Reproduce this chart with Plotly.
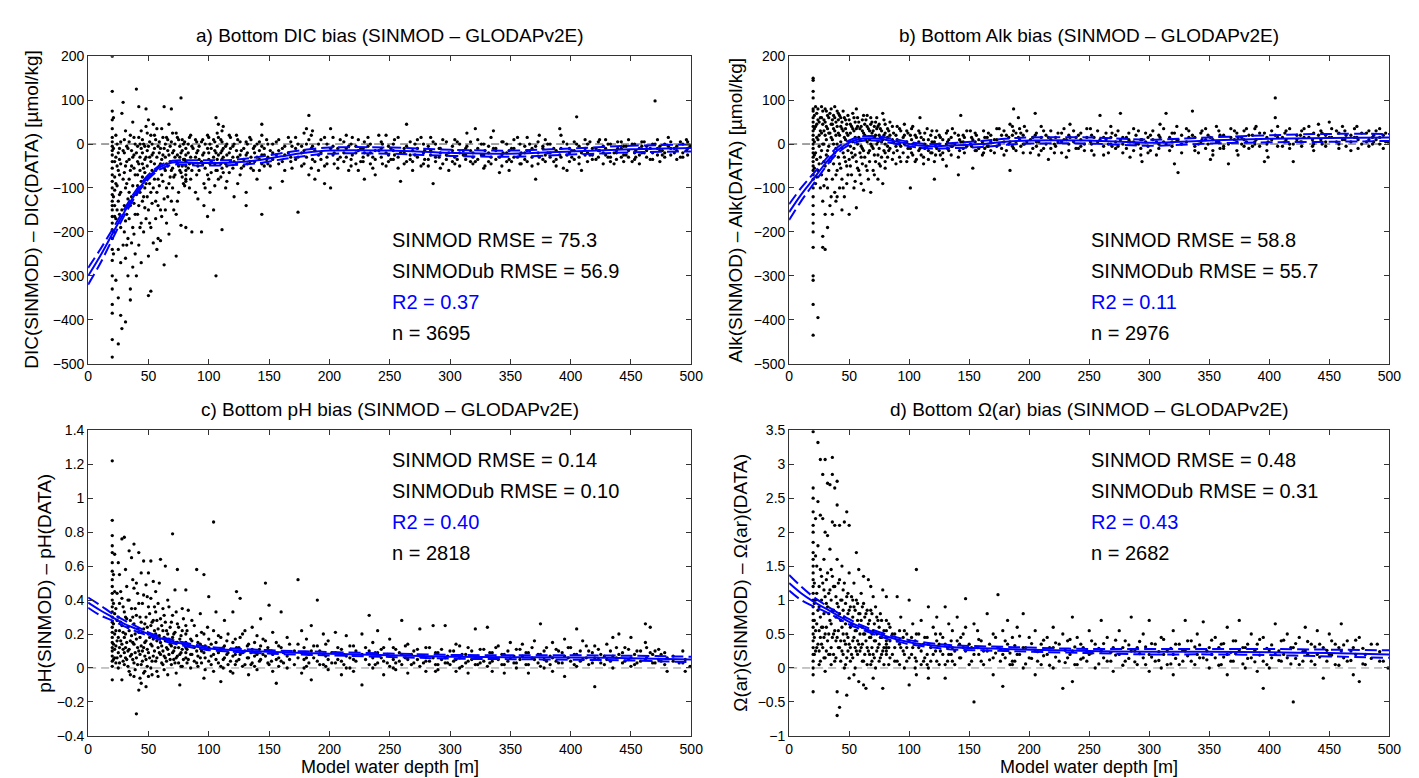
import plotly.graph_objects as go

# ---- a) DIC bias: (model depth, biases read at that depth)
dic_pts = [
    (20, [200, 120, 75, 55, 35, 15, 5, -5, -15, -25, -40, -55, -70, -85, -100, -115, -130, -140, -150,
          -165, -180, -195, -215, -240, -265, -300, -330, -365, -385, -445, -485]),
    (21, [60, -10, -120, -200, -250]), (23, [20, -30, -90, -170, -310]),
    (25, [-20, -60, -130, -240, -350, -455]), (27, [5, -45, -110, -190, -270, -390]),
    (28, [70, -150, -420]), (29, [95, -15, -80, -230]), (31, [30, -50, -100, -175, -260, -405]),
    (33, [-10, -125, -215, -300]), (35, [20, -60, -140, -330, -355]), (37, [50, -30, -95, -190, -280]),
    (39, [0, -70, -160, -250]), (40, [125, -20, -115, -300]), (42, [85, 15, -45, -140, -230]),
    (44, [30, -10, -85, -180, -270]), (46, [0, -55, -120, -200]), (48, [80, 40, -30, -90, -170]),
    (50, [55, -5, -75, -150, -255, -345]), (52, [20, -40, -110, -190, -335]), (54, [45, -20, -100, -225]),
    (56, [10, -60, -130, -170]), (58, [-5, -80, -140, -215]), (61, [35, -35, -70, -165]),
    (63, [85, -10, -55, -125, -275]), (65, [15, -45, -100, -180]), (67, [45, -25, -90, -205]),
    (69, [80, 5, -60, -130]), (71, [-15, -75, -150]), (73, [25, -40, -160, -255]), (75, [10, -50, -110]),
    (77, [105, -20, -65, -185]), (79, [0, -35, -90]), (81, [-10, -25, -40, -50, -60, -70, -80, -85, -190]),
    (84, [15, -45, -100]), (86, [-5, -60, -200]), (89, [10, -30, -110]), (91, [-15, -50, -125]),
    (94, [5, -40, -200]), (96, [-20, -90, -140]), (99, [20, -10, -70, -165]), (101, [0, -45, -110]),
    (104, [10, -30, -150]), (106, [60, -20, -60, -300]), (108, [45, 15, -25, -80]),
    (111, [30, 5, -15, -35, -55, -195]), (114, [-5, -45, -100]), (117, [20, -20, -65]),
    (121, [0, -40, -120]), (124, [10, -30, -90]), (127, [-15, -55]), (131, [5, -25, -110, -140]),
    (134, [15, -40]), (137, [-10, -60]), (140, [0, -30, -80]), (144, [45, 20, -5, -25, -45, -160]),
    (148, [10, -35]), (151, [-15, -50, -100]), (156, [5, -25]), (161, [-10, -40, -85]), (166, [15, -20]),
    (169, [-5, -55]), (174, [0, -30, -155]), (179, [25, -15, -45]), (183, [65, 10, -70]),
    (186, [30, -5, -35]), (191, [0, -25, -60]), (196, [15, -50, -90]), (201, [35, -10, -100]),
    (204, [-20, -45]), (209, [10, -30]), (216, [-5, -60]), (219, [15, -25]), (226, [-10, -40]),
    (229, [5, -20, -80]), (236, [-30, -55]), (241, [20, -15]), (244, [0, -45]), (251, [-10, -35]),
    (254, [10, -25]), (259, [-20, -85]), (264, [45, -5, -40]), (271, [0, -25]), (276, [15, -50]),
    (279, [-15, -35]), (286, [5, -90]), (291, [-10, -30]), (294, [10, -45]), (299, [-20, -60]),
    (306, [5, -35]), (311, [-25, -15]), (314, [25, -5]), (321, [35, -40]), (326, [0, -25]),
    (329, [-15, -50]), (336, [30, -10]), (341, [-30, -65]), (344, [5, -20]), (351, [-10, -40]),
    (356, [15, -30]), (359, [-20, -45]), (366, [0, -15]), (371, [-5, -80]), (374, [20, -30]),
    (381, [0, -20]), (386, [-10, -40]), (391, [35, -25]), (394, [5, -55]), (401, [-15, -30]),
    (405, [62, 0]), (409, [-20, -60]), (416, [5, -25]), (421, [-10, -35]), (424, [10, -15]),
    (431, [0, -30]), (436, [-20, -45]), (439, [5, -10]), (446, [-25, -5]), (451, [0, -40]),
    (454, [-15, -30]), (461, [5, -20]), (466, [-10, -35]), (470, [98, 0]), (476, [-15, -25]),
    (481, [15, -5]), (486, [-20, -10]), (491, [5, -30]), (496, [10, -15]), (499, [-5]),
]
dic_pts_more = [
    (22, [-40, -75, -105, -140, -165]), (24, [0, -50, -95, -150]), (26, [-10, -35, -70, -115, -160]),
    (30, [10, -20, -65, -140, -200]), (32, [-5, -40, -90, -160, -230]), (34, [5, -35, -80, -110, -170]),
    (36, [-15, -50, -120, -225]), (38, [15, -25, -55, -135, -205]), (41, [-5, -40, -70, -95, -160]),
    (43, [0, -30, -60, -110, -190]), (45, [10, -20, -45, -75, -130]), (47, [-5, -35, -65, -100, -145]),
    (49, [25, -15, -50, -120]), (51, [5, -30, -90, -180]), (53, [0, -25, -60, -135]),
    (55, [20, -10, -45, -80]), (57, [35, -30, -110, -240]), (59, [5, -20, -50, -95]),
    (60, [-10, -45, -150, -220]), (62, [15, -25, -85]), (64, [0, -30, -60, -150]),
    (66, [10, -15, -50, -120]), (68, [-5, -40, -75]), (70, [25, -20, -55, -100]), (72, [0, -30, -70]),
    (74, [15, -25, -45, -130]), (76, [-5, -30, -60]), (78, [10, -15, -50, -75]), (80, [5, -35, -95]),
    (83, [0, -20, -55]), (85, [20, -30, -80]), (87, [-10, -45]), (90, [5, -20, -70]),
    (92, [-5, -35, -60]), (95, [10, -25, -45]), (97, [0, -55, -100]), (100, [15, -20, -35, -80]),
    (102, [-10, -40, -65]), (105, [5, -15, -45, -95]), (107, [25, -5, -35, -60]),
    (110, [10, -20, -45, -75]), (112, [40, -10, -30, -65]), (115, [0, -25, -50, -85]),
    (118, [15, -10, -40]), (120, [-5, -30, -55]), (123, [20, -15, -45]), (126, [5, -25, -70]),
    (129, [-10, -35, -50]), (132, [0, -20, -45]), (135, [10, -30, -55]), (138, [-5, -20, -40]),
    (142, [5, -15, -35, -60]), (146, [-10, -25, -50]), (149, [0, -30, -45]),
    (153, [0, -20, -35]), (158, [10, -15, -45]), (163, [-5, -25, -60]), (168, [5, -30, -40]),
    (172, [15, -10, -35]), (177, [-5, -20, -50]), (181, [35, 0, -30]), (185, [20, -10, -55]),
    (188, [-15, -40, -80]), (193, [10, -20, -35]), (198, [0, -30, -45]), (203, [15, -5, -25]),
    (207, [-10, -35, -55]), (212, [5, -20, -40]), (214, [20, -10, -30]), (218, [0, -35, -50]),
    (222, [-5, -20, -45]), (224, [10, -15, -60]), (228, [-10, -30, -40]), (232, [15, -5, -25]),
    (234, [0, -20, -45]), (238, [-15, -35, -70]), (243, [5, -10, -30]), (247, [20, -20, -50]),
    (249, [-5, -25, -40]), (253, [0, -15, -35]), (257, [15, -30, -55]), (262, [-10, -20, -45]),
    (267, [5, -25, -35]), (269, [-15, -40, -60]), (273, [10, -10, -30]), (278, [0, -20, -45]),
    (282, [-5, -35, -50]), (284, [15, -15, -25]), (288, [0, -30, -40]), (292, [-10, -20, -55]),
    (297, [5, -25, -35]), (302, [-5, -15, -40]), (304, [10, -30, -45]), (308, [0, -20, -50]),
    (313, [-10, -35, -25]), (317, [5, -15, -40]), (319, [-20, -30, -45]), (323, [10, -10, -35]),
    (328, [0, -25, -55]), (332, [-5, -20, -40]), (334, [15, -30, -45]), (338, [-10, -15, -35]),
    (343, [5, -25, -50]), (347, [0, -20, -40]), (349, [-15, -35, -60]), (353, [10, -10, -30]),
    (358, [0, -25, -45]), (362, [-5, -20, -35]), (364, [15, -15, -40]), (368, [-10, -30, -50]),
    (373, [5, -20, -45]), (377, [-5, -10, -35]), (379, [10, -25, -40]), (383, [0, -20, -30]),
    (388, [-15, -35, -50]), (392, [20, -10, -30]), (397, [0, -25, -60]), (399, [-10, -20, -40]),
    (403, [5, -15, -35]), (407, [-5, -30, -45]), (412, [10, -10, -25]), (414, [0, -20, -40]),
    (418, [-10, -25, -35]), (423, [5, -15, -30]), (427, [-5, -20, -45]), (429, [10, -10, -25]),
    (433, [0, -30, -40]), (438, [-15, -20, -35]), (442, [5, -10, -30]), (444, [-5, -25, -40]),
    (448, [10, -15, -30]), (453, [0, -20, -35]), (457, [-10, -25, -45]), (459, [5, -5, -20]),
    (463, [-5, -15, -30]), (468, [0, -20, -35]), (472, [10, -10, -25]), (474, [-5, -15, -40]),
    (478, [0, -20, -30]), (483, [5, -10, -25]), (488, [-5, -15, -35]), (493, [0, -20, -30]),
    (497, [5, -10, -25]),
]
dic_fit_x = [0, 10, 20, 30, 40, 50, 60, 70, 80, 90, 100, 120, 140, 160, 180, 200, 250, 300, 350, 400, 450, 500]
dic_fit = [-300, -255, -205, -155, -110, -75, -52, -42, -42, -43, -43, -42, -37, -28, -20, -15, -15, -20, -22, -17, -12, -9]
dic_hi = [-282, -240, -195, -148, -104, -70, -48, -38, -37, -37, -37, -36, -30, -21, -13, -8, -8, -13, -15, -10, -4, -1]
dic_lo = [-320, -272, -217, -163, -116, -80, -57, -47, -47, -49, -49, -48, -44, -35, -27, -22, -22, -27, -29, -24, -19, -17]

# ---- b) Alk bias
alk_pts = [
    (20, [150, 145, 120, 105, 80, 75, 60, 50, 40, 30, 20, 10, 0, -10, -20, -30, -40, -50, -60, -70, -80,
          -100, -120, -140, -160, -180, -200, -235, -300, -310, -365, -435]),
    (22, [85, 40, -20, -90]), (24, [80, 55, 10, -60, -395]), (26, [60, 30, -30, -100]),
    (28, [75, 45, 0, -130, -210, -235]), (30, [80, 50, 20, -50, -160, -240]), (32, [65, 35, -15, -100, -190]),
    (34, [70, 25, -40, -140]), (36, [55, 45, 10, -80, -160]), (38, [85, 60, 30, -20, -110]),
    (40, [75, 40, 0, -60, -120]), (42, [65, 20, -45, -100]), (44, [50, 35, -10, -80, -150]),
    (46, [60, 15, -30, -120]), (48, [45, 25, -50, -90]), (50, [55, 5, -35, -160]), (52, [40, -20, -70]),
    (54, [60, 30, -10, -100]), (56, [80, 35, -40, -145]), (58, [50, 15, -60]), (60, [40, -5, -30, -90]),
    (62, [65, 25, -15, -105]), (64, [55, 10, -50]), (66, [35, -20, -80]), (68, [60, 45, 0, -110]),
    (70, [30, -10, -60]), (72, [50, 20, -40]), (74, [40, 5, -25, -80]), (76, [35, 15, -50]),
    (78, [70, 10, -90]), (80, [45, 25, 0, -20, -40, -55]), (83, [30, -15]), (86, [40, 10, -35]),
    (89, [20, -5, -45]), (92, [35, 0, -30]), (95, [15, -20]), (98, [30, 5, -40]), (101, [20, -10, -100]),
    (103, [40, 0, -25]), (106, [15, -35]), (109, [60, 25, -10]), (112, [10, -30, -45]), (115, [35, -5]),
    (118, [20, -20]), (121, [5, -40, -80]), (123, [30, -10]), (126, [15, -25]), (131, [25, 0, -50]),
    (133, [10, -15]), (136, [35, -5]), (141, [20, -30, -70]), (143, [65, 5]), (146, [15, -20]),
    (151, [30, 0]), (153, [10, -55]), (156, [20, -15]), (161, [5, -25]), (163, [15, -10]),
    (166, [25, -5]), (171, [10, -20]), (175, [35, 0]), (181, [20, -15]), (184, [45, 5, -60]),
    (187, [80, 30, -10]), (191, [60, 15]), (193, [25, -5]), (196, [40, 0]), (201, [10, -20]),
    (205, [70, 20]), (208, [5, -25]), (212, [30, -10]), (216, [15, -35]), (221, [0, -20]),
    (224, [25, 5]), (231, [10, -30]), (234, [45, 15]), (241, [20, -10]), (246, [0, -15]),
    (251, [35, 5]), (254, [15, -25]), (259, [65, 10]), (266, [0, -20]), (269, [25, -5]),
    (276, [70, 10]), (281, [15, -10]), (284, [5, -30]), (291, [30, 0]), (294, [10, -40]),
    (301, [20, -15]), (306, [5, -25]), (309, [45, 15]), (314, [70, 0]), (321, [25, -45]),
    (324, [10, -65]), (331, [35, 5]), (336, [75, 20]), (341, [0, -20]), (344, [30, 10]),
    (351, [15, -35]), (356, [40, 5]), (359, [20, -10]), (366, [0, -45]), (371, [30, 10]),
    (374, [15, -25]), (381, [35, 5]), (386, [20, -5]), (389, [40, 10]), (396, [25, -40]),
    (399, [5, -30]), (405, [105, 60, 20]), (411, [15, -5]), (414, [30, 10]), (420, [0, -40]),
    (426, [20, 5]), (429, [35, 15]), (436, [10, -5]), (441, [45, 20]), (444, [25, 0]),
    (450, [50, 15]), (456, [30, 5]), (461, [40, 10]), (464, [20, -5]), (471, [35, 15]),
    (474, [10, -10]), (481, [25, 5]), (486, [15, 0]), (489, [30, 10]), (495, [20, -10]), (499, [5]),
]
alk_pts_more = [
    (21, [65, 35, 5, -25, -55]), (23, [70, 45, 15, -35, -75]), (25, [50, 20, -5, -45]),
    (27, [85, 60, 25, -15, -70]), (29, [55, 30, 0, -40, -95]), (31, [75, 40, 10, -25, -80]),
    (33, [60, 25, -5, -60]), (35, [80, 45, 15, -30, -120]), (37, [65, 35, 0, -45]),
    (39, [50, 20, -10, -70, -130]), (41, [70, 55, 25, -30]), (43, [60, 40, 5, -55]),
    (45, [75, 30, -20, -100]), (47, [55, 35, 10, -40]), (49, [65, 20, -15, -70]), (51, [45, 25, -5, -50]),
    (53, [70, 35, 5, -30]), (55, [50, 15, -25, -85]), (57, [60, 40, 0, -55]), (59, [35, 10, -20, -70]),
    (61, [55, 30, -10, -45]), (63, [45, 20, -30]), (65, [65, 40, 5, -60]), (67, [30, 10, -15, -40]),
    (69, [50, 25, -5]), (71, [40, 15, -25, -70]), (73, [60, 35, 0]), (75, [45, 20, -10, -45]),
    (77, [30, 5, -30]), (79, [55, 20, -15]), (82, [35, 15, -5, -30]), (84, [50, 20, -10]),
    (87, [25, 5, -20]), (90, [40, 10, -15]), (93, [30, -5, -40]), (96, [45, 20, 0]), (99, [25, -10, -30]),
    (102, [35, 10, -20]), (105, [20, 0, -40]), (108, [30, 5, -15]), (110, [15, -25]), (113, [25, 0, -10]),
    (116, [10, -15, -35]), (119, [30, 5, -20]), (122, [15, -5, -25]), (125, [20, 0, -15]),
    (128, [10, -20, -35]), (132, [30, 5, -10]), (135, [15, -5, -25]), (138, [25, 0]), (142, [10, -15]),
    (145, [20, 5, -10]), (148, [30, -5]),
    (152, [15, -5]), (155, [25, 5, -15]), (158, [10, -10]), (162, [30, 0, -20]), (165, [15, -5]),
    (168, [20, 5, -15]), (173, [35, 10, -5]), (177, [20, -10]), (179, [30, 5, -25]), (183, [15, 0]),
    (186, [40, 20, -5]), (189, [25, 5, -15]), (192, [35, 10]), (195, [20, 0, -20]), (198, [30, 5]),
    (203, [15, -10]), (206, [25, 5, -5]), (210, [40, 15, -15]), (214, [20, 0]), (218, [30, 10, -10]),
    (222, [15, -5]), (227, [25, 5, -20]), (229, [35, 10]), (233, [20, 0, -15]), (237, [30, 5]),
    (239, [15, -10]), (243, [25, 10, -5]), (248, [35, 15]), (252, [20, 0, -15]), (257, [30, 5]),
    (262, [15, -5, -25]), (264, [25, 10]), (268, [40, 15, 0]), (272, [20, 5, -10]), (274, [30, -5]),
    (278, [15, 0, -20]), (283, [25, 10]), (287, [35, 5, -15]), (289, [20, 0]), (293, [10, -10, -25]),
    (297, [25, 5]), (299, [15, -5, -20]), (303, [30, 10]), (308, [20, 0, -10]), (312, [35, 5]),
    (317, [15, -15]), (319, [25, 5, -5]), (323, [40, 10]), (327, [20, 0, -20]), (333, [30, 15]),
    (338, [15, -5, -15]), (343, [25, 5]), (347, [35, 10, -10]), (349, [20, 0]), (353, [10, -15, -25]),
    (358, [30, 5]), (362, [20, -5, -10]), (368, [35, 15]), (373, [25, 5, -15]), (377, [15, 0]),
    (379, [30, 10, -5]), (383, [20, -10]), (388, [35, 5, 0]), (392, [25, -5]), (398, [15, 0, -15]),
    (402, [30, 10]), (407, [40, 15, -5]), (413, [25, 5]), (417, [35, 0, -10]), (423, [20, 10]),
    (427, [30, 5, -5]), (433, [40, 15]), (437, [25, 0, -15]), (443, [30, 10]), (447, [20, 5, -5]),
    (452, [35, 15]), (458, [25, 0, -10]), (463, [30, 10]), (468, [20, 5, -15]), (473, [40, 15]),
    (477, [25, 0]), (483, [30, 10, -5]), (487, [20, 5]), (492, [35, 15, 0]), (497, [25, 5]),
]
alk_fit_x = [0, 10, 20, 30, 40, 50, 60, 70, 80, 90, 100, 110, 120, 140, 160, 180, 200, 250, 300, 350, 400, 450, 500]
alk_fit = [-155, -115, -80, -45, -15, 3, 12, 13, 10, 5, 0, -4, -5, -3, 0, 5, 8, 8, 3, 8, 12, 14, 15]
alk_hi = [-137, -100, -68, -36, -8, 8, 17, 18, 15, 10, 5, 1, 0, 3, 7, 12, 15, 15, 10, 15, 20, 23, 23]
alk_lo = [-173, -130, -92, -54, -22, -2, 7, 8, 5, 0, -5, -9, -10, -9, -7, -2, 1, 1, -4, 1, 4, 5, 7]

# ---- c) pH bias
ph_pts = [
    (20, [1.22, 0.87, 0.78, 0.72, 0.68, 0.62, 0.57, 0.52, 0.48, 0.44, 0.40, 0.36, 0.33, 0.30, 0.27, 0.24,
          0.21, 0.18, 0.15, 0.12, 0.10, 0.07, 0.04, 0.01, -0.07]),
    (22, [0.67, 0.45, 0.32, 0.20, 0.11, 0.06]), (24, [0.44, 0.28, 0.16, 0.06]),
    (26, [0.55, 0.38, 0.22, 0.12, 0.03]), (28, [0.76, 0.41, 0.25, 0.14, -0.07]),
    (30, [0.77, 0.33, 0.18, 0.09, 0.02]), (32, [0.48, 0.29, 0.15, 0.05]),
    (34, [0.69, 0.40, 0.22, 0.11, -0.02]), (36, [0.65, 0.35, 0.19, 0.08]),
    (38, [0.73, 0.47, 0.26, 0.14, 0.03, -0.05]), (40, [0.50, 0.31, 0.17, 0.06, -0.27]),
    (42, [0.68, 0.38, 0.21, 0.10, -0.13]), (44, [0.56, 0.27, 0.13, 0.02, -0.09]),
    (46, [0.63, 0.43, 0.23, 0.12, -0.03]), (48, [0.49, 0.30, 0.16, 0.05, -0.11]),
    (50, [0.56, 0.36, 0.20, 0.09, -0.05]), (52, [0.63, 0.41, 0.25, 0.14, 0.00]),
    (54, [0.51, 0.28, 0.17, 0.07]), (56, [0.45, 0.33, 0.20, 0.04]), (58, [0.38, 0.23, 0.12, -0.05]),
    (60, [0.64, 0.29, 0.15, 0.08]), (62, [0.35, 0.22, 0.10, 0.02]), (64, [0.60, 0.27, 0.16, 0.06]),
    (66, [0.40, 0.20, 0.11, -0.04]), (68, [0.24, 0.14, 0.05]), (70, [0.79, 0.31, 0.18, 0.09]),
    (72, [0.46, 0.21, 0.12, 0.03]), (74, [0.58, 0.26, 0.15, 0.07]), (76, [0.17, 0.08, -0.10]),
    (78, [0.35, 0.22, 0.11, 0.01]), (81, [0.46, 0.25, 0.20, 0.15, 0.12, 0.09, 0.06]),
    (83, [0.34, 0.13, 0.05]), (86, [0.28, 0.16, 0.08]), (90, [0.58, 0.19, 0.10, 0.03]),
    (93, [0.32, 0.14, 0.06]), (96, [0.55, 0.20, 0.09, -0.06]), (100, [0.42, 0.17, 0.12, 0.04]),
    (104, [0.86, 0.22, 0.08, -0.02]), (106, [0.33, 0.15, 0.05]), (110, [0.18, 0.11, 0.01, -0.08]),
    (113, [0.28, 0.13, 0.06]), (116, [0.20, 0.09, 0.02]), (120, [0.33, 0.15, 0.07, -0.03]),
    (123, [0.45, 0.12, 0.04]), (126, [0.41, 0.18, 0.08]), (130, [0.22, 0.10, 0.02]),
    (133, [0.14, 0.06, -0.04]), (136, [0.24, 0.11, 0.03]), (140, [0.19, 0.08, -0.01]),
    (143, [0.29, 0.13, 0.05]), (147, [0.50, 0.16, 0.07]), (150, [0.37, 0.10, 0.02]),
    (153, [0.21, 0.08, -0.02]), (156, [0.15, 0.05, -0.09]), (160, [0.33, 0.12, 0.04]),
    (165, [0.18, 0.07, 0.00]), (174, [0.52, 0.14, 0.06]), (177, [0.22, 0.09, -0.03]),
    (181, [0.17, 0.06, 0.01]), (185, [0.25, 0.10, -0.07]), (190, [0.40, 0.13, 0.04]),
    (195, [0.20, 0.08, 0.02]), (199, [0.16, 0.05, -0.01]), (205, [0.21, 0.09, 0.03]),
    (210, [0.11, 0.04, -0.04]), (214, [0.19, 0.07, 0.00]), (220, [0.13, 0.05, -0.02]),
    (227, [0.20, 0.08, -0.10]), (233, [0.31, 0.10, 0.02]), (236, [0.15, 0.06, 0.00]),
    (240, [0.22, 0.09, 0.03]), (245, [0.12, 0.04, -0.04]), (250, [0.17, 0.07, 0.01]),
    (255, [0.11, 0.03, -0.01]), (260, [0.28, 0.08, 0.02]), (265, [0.14, 0.05, -0.03]),
    (270, [0.10, 0.03]), (275, [0.23, 0.07, 0.01]), (280, [0.12, 0.04, -0.02]), (286, [0.25, 0.06]),
    (290, [0.09, 0.02, -0.01]), (296, [0.25, 0.06, 0.03]), (300, [0.10, 0.02]),
    (305, [0.14, 0.05, -0.02]), (310, [0.08, 0.01]), (315, [0.12, 0.04, -0.03]),
    (321, [0.23, 0.06, 0.02]), (325, [0.11, 0.03]), (331, [0.24, 0.07, 0.01]),
    (335, [0.09, 0.04, -0.02]), (340, [0.13, 0.05]), (345, [0.08, 0.02, -0.03]), (350, [0.15, 0.06]),
    (355, [0.11, 0.03, 0.00]), (360, [0.14, 0.07]), (365, [0.09, 0.02, -0.03]), (370, [0.16, 0.05]),
    (375, [0.26, 0.08, 0.01]), (380, [0.12, 0.04]), (385, [0.15, 0.06, -0.02]), (390, [0.10, 0.03]),
    (395, [0.17, 0.07, -0.05]), (400, [0.12, 0.04]), (405, [0.23, 0.08, 0.01]), (410, [0.16, 0.05]),
    (415, [0.10, 0.02]), (420, [0.13, 0.06, -0.11]), (425, [0.08, 0.03]), (430, [0.14, 0.05]),
    (435, [0.18, 0.07, 0.00]), (440, [0.20, 0.08]), (445, [0.12, 0.04]), (450, [0.18, 0.06, 0.01]),
    (455, [0.10, 0.03]), (462, [0.26, 0.15, 0.05]), (466, [0.24, 0.09]), (470, [0.10, 0.03]),
    (475, [0.08, 0.04]), (480, [-0.02, 0.06]), (490, [0.03]), (495, [-0.02, 0.05]), (499, [0.01]),
]
ph_pts_more = [
    (21, [0.55, 0.38, 0.26, 0.14, 0.05]), (23, [0.35, 0.22, 0.13, 0.03]), (25, [0.62, 0.30, 0.18, 0.09, 0.0]),
    (27, [0.45, 0.27, 0.16, 0.07]), (29, [0.36, 0.21, 0.11, 0.04]), (31, [0.58, 0.30, 0.20, 0.12, 0.06]),
    (33, [0.40, 0.24, 0.10, 0.01]), (35, [0.28, 0.16, 0.07, -0.04]), (37, [0.52, 0.30, 0.15, 0.05]),
    (39, [0.35, 0.20, 0.09, -0.01]), (41, [0.44, 0.23, 0.12, 0.02]), (43, [0.30, 0.18, 0.08, -0.06]),
    (45, [0.38, 0.21, 0.10, 0.04]), (47, [0.26, 0.15, 0.07, -0.02]), (49, [0.42, 0.24, 0.11, 0.01]),
    (51, [0.32, 0.18, 0.06]), (53, [0.27, 0.13, 0.04, -0.04]), (55, [0.36, 0.22, 0.10]),
    (57, [0.28, 0.16, 0.06, -0.02]), (59, [0.50, 0.19, 0.09]), (61, [0.25, 0.13, 0.03]),
    (63, [0.31, 0.18, 0.07, -0.01]), (65, [0.22, 0.12, 0.04]), (67, [0.36, 0.17, 0.08]),
    (69, [0.27, 0.13, 0.02]), (71, [0.20, 0.10, 0.05]), (73, [0.33, 0.15, 0.06, -0.03]),
    (75, [0.24, 0.12, 0.03]), (77, [0.19, 0.09, 0.01]), (79, [0.29, 0.14, 0.05]), (82, [0.22, 0.11, 0.03]),
    (85, [0.17, 0.08, 0.0]), (88, [0.25, 0.12, 0.04]), (91, [0.15, 0.07, 0.01]), (94, [0.21, 0.10, 0.03]),
    (97, [0.13, 0.06, -0.01]), (99, [0.24, 0.11]), (102, [0.14, 0.07, 0.02]), (108, [0.19, 0.09, 0.03]),
    (112, [0.12, 0.05, 0.0]), (115, [0.16, 0.08]), (118, [0.11, 0.04, -0.02]), (122, [0.17, 0.08, 0.02]),
    (125, [0.12, 0.05]), (128, [0.20, 0.09, 0.01]), (132, [0.13, 0.06]), (135, [0.09, 0.02]),
    (138, [0.15, 0.07, 0.01]), (142, [0.11, 0.04]), (145, [0.17, 0.08]), (149, [0.12, 0.03]),
    (152, [0.10, 0.04]), (158, [0.13, 0.06, 0.01]), (162, [0.09, 0.03]), (167, [0.14, 0.05]),
    (171, [0.10, 0.02]), (179, [0.12, 0.05, 0.0]), (183, [0.08, 0.03]), (187, [0.13, 0.06]),
    (192, [0.10, 0.02]), (197, [0.14, 0.07, 0.01]), (202, [0.09, 0.03]), (207, [0.12, 0.05]),
    (212, [0.08, 0.02]), (217, [0.13, 0.06, 0.0]), (222, [0.10, 0.04]), (230, [0.12, 0.05]),
    (238, [0.09, 0.02]), (243, [0.11, 0.06]), (248, [0.08, 0.03]), (253, [0.12, 0.05, 0.0]),
    (258, [0.09, 0.04]), (263, [0.13, 0.06]), (268, [0.08, 0.02]), (273, [0.11, 0.05]), (278, [0.07, 0.03]),
    (283, [0.12, 0.04]), (288, [0.09, 0.02, -0.02]), (293, [0.11, 0.05]), (298, [0.07, 0.03]),
    (303, [0.10, 0.04]), (308, [0.13, 0.06, 0.0]), (313, [0.08, 0.03]), (318, [0.10, 0.05]),
    (323, [0.07, 0.02]), (328, [0.11, 0.04]), (333, [0.09, 0.03]), (338, [0.12, 0.06]), (343, [0.08, 0.02]),
    (348, [0.10, 0.04]), (353, [0.07, 0.03]), (358, [0.11, 0.05]), (363, [0.09, 0.02]), (368, [0.12, 0.06]),
    (373, [0.08, 0.03]), (378, [0.10, 0.05, 0.0]), (383, [0.07, 0.02]), (388, [0.11, 0.04]),
    (393, [0.09, 0.03]), (398, [0.12, 0.06]), (403, [0.08, 0.02]), (408, [0.10, 0.04]), (413, [0.13, 0.06]),
    (418, [0.09, 0.03]), (423, [0.11, 0.05]), (428, [0.07, 0.02]), (433, [0.10, 0.04]), (438, [0.12, 0.06]),
    (443, [0.09, 0.03]), (448, [0.11, 0.05]), (453, [0.08, 0.02]), (458, [0.10, 0.04]), (463, [0.12, 0.06]),
    (468, [0.08, 0.03]), (473, [0.11, 0.05]), (478, [0.09, 0.02]), (485, [0.07, 0.04]), (493, [0.10, 0.03]),
]
ph_fit_x = [0, 10, 20, 30, 40, 50, 60, 70, 80, 90, 100, 120, 140, 160, 180, 200, 250, 300, 350, 400, 450, 500]
ph_fit = [0.385, 0.34, 0.30, 0.26, 0.23, 0.20, 0.175, 0.155, 0.14, 0.125, 0.115, 0.105, 0.098, 0.092, 0.088, 0.084, 0.075, 0.066, 0.063, 0.062, 0.058, 0.05]
ph_hi = [0.415, 0.37, 0.32, 0.28, 0.245, 0.21, 0.185, 0.165, 0.15, 0.135, 0.125, 0.115, 0.108, 0.102, 0.098, 0.094, 0.085, 0.077, 0.075, 0.075, 0.072, 0.066]
ph_lo = [0.355, 0.31, 0.28, 0.245, 0.215, 0.19, 0.165, 0.145, 0.13, 0.115, 0.105, 0.095, 0.088, 0.082, 0.078, 0.074, 0.065, 0.055, 0.052, 0.049, 0.044, 0.034]

# ---- d) Omega(ar) bias
om_pts = [
    (20, [3.48, 2.65, 2.5, 2.3, 2.1, 2.0, 1.85, 1.7, 1.6, 1.5, 1.4, 1.3, 1.2, 1.1, 1.0, 0.9, 0.8, 0.7, 0.6,
          0.5, 0.4, 0.3, 0.2, 0.1, 0.0, -0.1, -0.35]),
    (22, [2.2, 1.65, 1.0, 0.55, 0.25]), (24, [3.32, 2.45, 1.8, 0.85, 0.35]),
    (26, [3.07, 2.25, 1.45, 0.75, 0.45, 0.1]), (28, [2.85, 2.2, 1.25, 0.6, 0.3]),
    (30, [3.07, 2.0, 1.05, 0.5, 0.15, -0.05]), (32, [2.72, 1.95, 1.4, 0.9, 0.4]),
    (34, [2.7, 1.75, 1.15, 0.7, 0.2]), (36, [3.1, 2.85, 2.15, 1.35, 0.85, 0.45]),
    (38, [2.65, 2.1, 1.2, 0.55, 0.1]), (40, [2.75, 2.4, 1.6, 0.95, 0.45, -0.35, -0.7]),
    (42, [2.1, 1.3, 0.8, 0.3, -0.58]), (44, [1.5, 1.0, 0.6, 0.25]), (46, [2.15, 1.25, 0.75, 0.4, 0.0]),
    (48, [2.3, 1.05, 0.5, 0.15, -0.4]), (50, [2.1, 1.4, 0.85, 0.35, -0.15]), (52, [1.05, 0.65, 0.2]),
    (54, [1.25, 0.9, 0.45, -0.1]), (56, [1.7, 1.0, 0.55, 0.25]), (58, [1.45, 0.8, 0.35, -0.2]),
    (60, [1.1, 0.7, 0.3]), (62, [1.35, 0.95, 0.5, 0.1, -0.25]), (64, [0.8, 0.4, -0.3]),
    (66, [1.3, 0.65, 0.25]), (68, [1.2, 0.85, 0.45, 0.05]), (70, [1.05, 0.55, 0.2, -0.15]),
    (72, [0.9, 0.4, 0.0]), (74, [0.7, 0.3]), (76, [0.8, 0.45, 0.15]), (78, [1.15, 0.5, 0.25, -0.3]),
    (81, [1.05, 0.7, 0.55, 0.45, 0.4, 0.35, 0.3, 0.25, 0.2]), (83, [0.65, 0.3, 0.05]), (86, [0.5, 0.2]),
    (90, [1.05, 0.4, 0.1]), (93, [0.75, 0.3]), (96, [0.55, 0.2, 0.0]), (100, [1.0, 0.4, 0.15, -0.25]),
    (103, [0.65, 0.3]), (106, [1.45, 0.5, 0.1, -0.1]), (110, [0.7, 0.25, 0.05]), (113, [0.45, 0.15]),
    (116, [0.9, 0.35, 0.0, -0.15]), (120, [0.6, 0.2]), (123, [0.75, 0.4, 0.1]), (126, [0.5, 0.25]),
    (130, [0.9, 0.35, 0.05, -0.15]), (133, [0.65, 0.2]), (136, [0.55, 0.3, 0.1]), (140, [0.75, 0.4]),
    (143, [0.45, 0.15]), (147, [1.02, 0.6, 0.25]), (150, [0.35, 0.05]), (154, [0.65, 0.2, -0.5]),
    (157, [0.55, 0.3]), (160, [0.4, 0.1]), (165, [0.8, 0.25]), (170, [0.5, 0.15, -0.1]),
    (174, [1.08, 0.3]), (178, [0.55, 0.2, -0.27]), (182, [0.7, 0.35]), (186, [0.45, 0.1, 0.05]),
    (190, [0.6, 0.2]), (195, [0.8, 0.3, 0.0]), (200, [0.45, 0.15]), (205, [0.55, 0.25, -0.1]),
    (210, [0.35, 0.05]), (215, [0.45, 0.2]), (220, [0.6, 0.3, 0.0]), (225, [0.35, 0.1]),
    (228, [0.5, -0.3]), (232, [0.4, 0.15]), (236, [0.75, 0.25, -0.2]), (240, [0.45, 0.05]),
    (245, [0.3, 0.15]), (250, [0.55, 0.2]), (255, [0.35, 0.0]), (260, [0.7, 0.25]), (265, [0.45, 0.1]),
    (270, [0.3, -0.05]), (275, [0.55, 0.2]), (280, [0.4, 0.1]), (285, [0.75, 0.25]), (290, [0.3, 0.05]),
    (295, [0.5, 0.15]), (300, [0.7, 0.2, -0.05]), (305, [0.35, 0.1]), (310, [0.45, 0.0]),
    (315, [0.25, 0.05]), (320, [0.55, 0.2, -0.1]), (325, [0.35, 0.05]), (330, [0.7, 0.25]),
    (335, [0.4, 0.1]), (340, [0.5, 0.2]), (345, [0.68, 0.15]), (350, [0.3, 0.0]), (355, [0.45, 0.15]),
    (360, [0.35, 0.05]), (365, [0.6, 0.2, -0.1]), (370, [0.4, 0.1]), (375, [0.7, 0.25]), (380, [0.3, 0.0]),
    (385, [0.5, 0.15]), (390, [0.35, -0.05]), (395, [0.45, 0.1, -0.3]), (400, [0.25, 0.0]),
    (405, [0.65, 0.2]), (410, [0.4, 0.1]), (415, [0.5, 0.15]), (420, [0.3, -0.5]), (425, [0.45, 0.05]),
    (430, [0.6, 0.25]), (435, [0.35, 0.1]), (440, [0.55, 0.2]), (445, [0.3, -0.15]), (450, [0.5, 0.2]),
    (455, [0.35, 0.05]), (460, [0.65, 0.25]), (465, [0.4, 0.1]), (470, [0.3, -0.1]), (475, [0.45, -0.2]),
    (480, [0.2, 0.05]), (490, [0.35]), (495, [0.1]), (499, [0.0]),
]
om_pts_more = [
    (21, [1.25, 0.95, 0.7, 0.45, 0.2]), (23, [1.5, 1.1, 0.65, 0.3]), (25, [1.2, 0.9, 0.55, 0.25, 0.05]),
    (27, [1.35, 1.0, 0.6, 0.35]), (29, [1.6, 1.15, 0.8, 0.45, 0.15]), (31, [1.3, 0.95, 0.6, 0.25]),
    (33, [1.1, 0.8, 0.5, 0.2]), (35, [1.45, 1.0, 0.65, 0.3, 0.05]), (37, [1.2, 0.85, 0.5, 0.2]),
    (39, [1.05, 0.75, 0.4, 0.15]), (41, [1.25, 0.9, 0.55, 0.3]), (43, [1.0, 0.7, 0.4, 0.1]),
    (45, [1.15, 0.85, 0.5, 0.2]), (47, [0.95, 0.65, 0.35, 0.05]), (49, [1.1, 0.8, 0.45, 0.25]),
    (51, [0.9, 0.6, 0.3, 0.1]), (53, [1.0, 0.75, 0.4, 0.15]), (55, [0.85, 0.55, 0.3, 0.0]),
    (57, [0.95, 0.7, 0.4, 0.2]), (59, [0.8, 0.5, 0.25]), (61, [0.9, 0.6, 0.35, 0.1]), (63, [0.75, 0.5, 0.2]),
    (65, [0.85, 0.55, 0.3, 0.05]), (67, [0.7, 0.45, 0.2]), (69, [0.8, 0.5, 0.3, 0.1]), (71, [0.65, 0.4, 0.15]),
    (73, [0.75, 0.5, 0.25]), (75, [0.6, 0.35, 0.1]), (77, [0.7, 0.45, 0.2]), (79, [0.55, 0.3, 0.05]),
    (84, [0.6, 0.4, 0.15]), (88, [0.5, 0.3, 0.1]), (92, [0.55, 0.35, 0.05]), (95, [0.45, 0.25]),
    (98, [0.5, 0.3, 0.1]), (102, [0.45, 0.2]), (105, [0.4, 0.15, 0.0]), (108, [0.5, 0.3]), (112, [0.35, 0.1]),
    (115, [0.45, 0.2, 0.05]), (118, [0.3, 0.1]), (122, [0.5, 0.25]), (125, [0.35, 0.05]), (128, [0.45, 0.2]),
    (132, [0.3, 0.1]), (135, [0.4, 0.2]), (138, [0.25, 0.05]), (142, [0.35, 0.15]), (145, [0.5, 0.3]),
    (152, [0.3, 0.1]), (158, [0.42, 0.2]), (162, [0.25, 0.05]), (167, [0.35, 0.12]), (172, [0.45, 0.22]),
    (176, [0.28, 0.1]), (180, [0.4, 0.15]), (184, [0.22, 0.05]), (188, [0.33, 0.1]), (192, [0.47, 0.2]),
    (197, [0.3, 0.06]), (202, [0.36, 0.14]), (207, [0.24, 0.1]), (212, [0.41, 0.18]), (217, [0.3, 0.04]),
    (222, [0.37, 0.16]), (230, [0.26, 0.08]), (234, [0.42, 0.2]), (238, [0.31, 0.05]), (243, [0.35, 0.13]),
    (248, [0.24, 0.1]), (252, [0.4, 0.22]), (258, [0.29, 0.06]), (262, [0.36, 0.15]), (268, [0.23, 0.1]),
    (272, [0.41, 0.19]), (278, [0.3, 0.04]), (283, [0.34, 0.14]), (288, [0.25, 0.09]), (292, [0.39, 0.21]),
    (297, [0.31, 0.05]), (302, [0.36, 0.16]), (308, [0.24, 0.11]), (312, [0.42, 0.2]), (318, [0.29, 0.06]),
    (322, [0.35, 0.14]), (328, [0.26, 0.1]), (332, [0.4, 0.18]), (338, [0.31, 0.05]), (342, [0.34, 0.15]),
    (348, [0.25, 0.12]), (352, [0.41, 0.2]), (358, [0.3, 0.04]), (362, [0.36, 0.16]), (368, [0.23, 0.1]),
    (372, [0.4, 0.21]), (378, [0.3, 0.06]), (382, [0.35, 0.14]), (388, [0.26, 0.09]), (392, [0.42, 0.19]),
    (398, [0.29, 0.05]), (402, [0.34, 0.15]), (408, [0.25, 0.11]), (412, [0.41, 0.2]), (418, [0.3, 0.06]),
    (422, [0.36, 0.14]), (428, [0.24, 0.1]), (432, [0.39, 0.2]), (438, [0.31, 0.05]), (442, [0.35, 0.16]),
    (448, [0.26, 0.1]), (452, [0.4, 0.19]), (458, [0.3, 0.04]), (462, [0.34, 0.15]), (468, [0.25, 0.11]),
    (472, [0.41, 0.2]), (478, [0.29, 0.06]), (485, [0.35, 0.14]), (492, [0.24, 0.1]),
]
om_fit_x = [0, 10, 20, 30, 40, 50, 60, 70, 80, 90, 100, 120, 140, 160, 180, 200, 250, 300, 350, 400, 450, 500]
om_fit = [1.25, 1.1, 0.98, 0.88, 0.78, 0.68, 0.6, 0.53, 0.47, 0.42, 0.38, 0.33, 0.3, 0.29, 0.28, 0.27, 0.25, 0.24, 0.24, 0.23, 0.22, 0.2]
om_hi = [1.37, 1.2, 1.05, 0.93, 0.82, 0.72, 0.63, 0.56, 0.5, 0.45, 0.41, 0.36, 0.33, 0.32, 0.31, 0.3, 0.28, 0.28, 0.28, 0.28, 0.27, 0.26]
om_lo = [1.14, 1.0, 0.91, 0.83, 0.74, 0.64, 0.57, 0.5, 0.44, 0.39, 0.35, 0.3, 0.27, 0.26, 0.25, 0.24, 0.22, 0.2, 0.2, 0.19, 0.17, 0.15]

titles = ["a) Bottom DIC bias (SINMOD \u2013 GLODAPv2E)", "b) Bottom Alk bias (SINMOD \u2013 GLODAPv2E)",
          "c) Bottom pH bias (SINMOD \u2013 GLODAPv2E)", "d) Bottom \u03a9(ar) bias (SINMOD \u2013 GLODAPv2E)"]
ylabels = ["DIC(SINMOD) \u2013 DIC(DATA) [\u00b5mol/kg]", "Alk(SINMOD) \u2013 Alk(DATA) [\u00b5mol/kg]",
           "pH(SINMOD) \u2013 pH(DATA)", "\u03a9(ar)(SINMOD) \u2013 \u03a9(ar)(DATA)"]
rmse = ["75.3", "58.8", "0.14", "0.48"]
rmse_ub = ["56.9", "55.7", "0.10", "0.31"]
r2 = ["0.37", "0.11", "0.40", "0.43"]
nobs = ["3695", "2976", "2818", "2682"]

FONT = "Liberation Sans, Arial, Helvetica, sans-serif"
BLUE = "#0000ff"
W, H = 1419, 778

# pixel boxes of the four axes: (left, right, top, bottom)
boxes = [(77, 687, 41, 355), (786, 1393, 41, 355), (77, 687, 423, 735), (786, 1393, 423, 735)]
yranges = [(-500, 200, 100), (-500, 200, 100), (-0.4, 1.4, 0.2), (-1, 3.5, 0.5)]
text_y = [(-219, -290, -359, -429), (-219, -290, -359, -429), (1.224, 1.043, 0.861, 0.68), (3.06, 2.607, 2.153, 1.70)]
ylab_x = [20, 732, 32, 736]
zero_col = ["#444444", "#444444", "#8c8c8c", "#8c8c8c"]

panels = [(dic_pts + dic_pts_more, dic_fit_x, dic_fit, dic_hi, dic_lo),
          (alk_pts + alk_pts_more, alk_fit_x, alk_fit, alk_hi, alk_lo),
          (ph_pts + ph_pts_more, ph_fit_x, ph_fit, ph_hi, ph_lo),
          (om_pts + om_pts_more, om_fit_x, om_fit, om_hi, om_lo)]

fig = go.Figure()
annotations = []

for i, (pts, fx, fy, fhi, flo) in enumerate(panels):
    n = "" if i == 0 else str(i + 1)
    xa, ya = "x" + n, "y" + n
    xs, ys = [], []
    for d, vals in pts:
        xs += [d] * len(vals)
        ys += vals

    fig.add_trace(go.Scatter(x=[0, 500], y=[0, 0], mode="lines", xaxis=xa, yaxis=ya,
                             line=dict(color=zero_col[i], width=1, dash="8px,5px"), hoverinfo="skip"))
    fig.add_trace(go.Scatter(x=xs, y=ys, mode="markers", xaxis=xa, yaxis=ya,
                             marker=dict(color="black", size=3.3, line=dict(width=0))))
    fig.add_trace(go.Scatter(x=fx, y=fy, mode="lines", xaxis=xa, yaxis=ya,
                             line=dict(color=BLUE, width=2, shape="spline")))
    for band in (fhi, flo):
        fig.add_trace(go.Scatter(x=fx, y=band, mode="lines", xaxis=xa, yaxis=ya,
                                 line=dict(color=BLUE, width=2, shape="spline", dash="12px,5px")))

    l, r, t, b = boxes[i]
    y0, y1, dy = yranges[i]
    axis_common = dict(showline=True, linecolor="#333333", linewidth=1, mirror="ticks", ticks="inside",
                       ticklen=5, tickcolor="#333333", showgrid=False, zeroline=False,
                       tickfont=dict(family=FONT, size=14, color="black"))
    fig.layout["xaxis" + n] = dict(axis_common, domain=[l / W, r / W], range=[0, 500], dtick=50,
                                   anchor=ya)
    fig.layout["yaxis" + n] = dict(axis_common, domain=[1 - b / H, 1 - t / H], range=[y0, y1], dtick=dy,
                                   anchor=xa)

    # panel title
    annotations.append(dict(text=titles[i], xref="paper", yref="paper", x=(l + r) / 2 / W,
                            y=1 - (t - 21) / H, showarrow=False, xanchor="center", yanchor="middle",
                            font=dict(family=FONT, size=19, color="black")))
    # y label
    annotations.append(dict(text=ylabels[i], xref="paper", yref="paper", x=ylab_x[i] / W,
                            y=1 - (t + b) / 2 / H, textangle=-90, showarrow=False, xanchor="center",
                            yanchor="middle", font=dict(family=FONT, size=19, color="black")))
    # stats text
    lines = ["SINMOD RMSE = " + rmse[i], "SINMODub RMSE = " + rmse_ub[i], "R2 = " + r2[i], "n = " + nobs[i]]
    for k, txt in enumerate(lines):
        annotations.append(dict(text=txt, xref=xa, yref=ya, x=250, y=text_y[i][k], showarrow=False,
                                xanchor="left", yanchor="middle",
                                font=dict(family=FONT, size=20, color=BLUE if k == 2 else "black")))
    # x label on bottom row
    if i >= 2:
        annotations.append(dict(text="Model water depth [m]", xref="paper", yref="paper", x=(l + r) / 2 / W,
                                y=1 - 767 / H, showarrow=False, xanchor="center", yanchor="middle",
                                font=dict(family=FONT, size=18, color="black")))

fig.update_layout(width=W, height=H, margin=dict(l=0, r=0, t=0, b=0), showlegend=False,
                  paper_bgcolor="white", plot_bgcolor="white", annotations=annotations,
                  hovermode=False)

fig.write_html("out.html")
